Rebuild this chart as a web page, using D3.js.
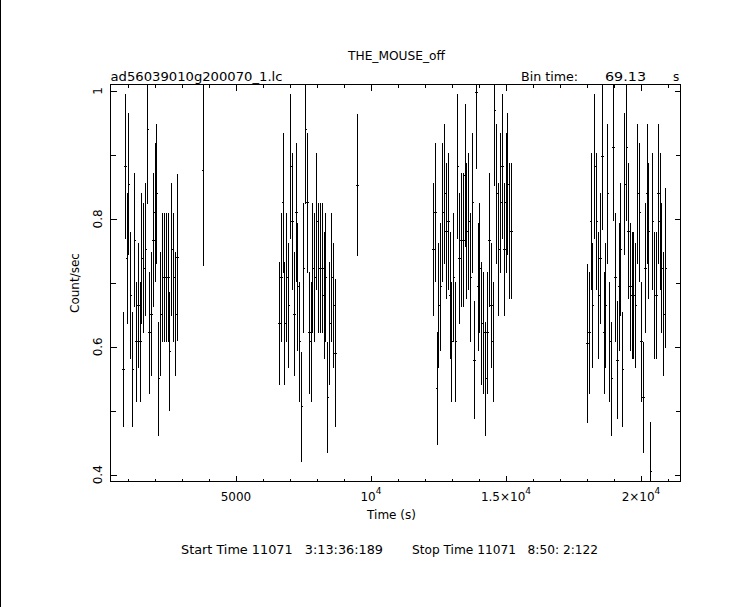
<!DOCTYPE html>
<html><head><meta charset="utf-8">
<script src="https://cdn.jsdelivr.net/npm/d3@7/dist/d3.min.js"></script>
<style>
html,body{margin:0;padding:0;background:#fff;}
svg text{font-family:"DejaVu Sans","Liberation Sans",sans-serif;font-size:12px;fill:#000;}
</style></head><body>
<svg id="c" width="743" height="607"></svg>
<script>
// ---------- data ----------
const title = "THE_MOUSE_off";
const fileName = "ad56039010g200070_1.lc";
const binLabel = "Bin time:";
const binTime = 69.13;
const binValueLabel = "69.13";
const binUnit = "s";
const xTitle = "Time (s)";
const yTitle = "Count/sec";
const startLabel = "Start Time 11071   3:13:36:189";
const stopLabel = "Stop Time 11071   8:50: 2:122";

const xMajorTicks = [5000, 10000, 15000, 20000];
const xTickBase = ["5000", "10", "1.5\u00d710", "2\u00d710"];
const xTickExp = ["", "4", "4", "4"];
const xMinorTicks = [1000, 2000, 3000, 4000, 6000, 7000, 8000, 9000, 11000, 12000, 13000, 14000, 16000, 17000, 18000, 19000, 21000];
const yMajorTicks = [0.4, 0.6, 0.8, 1.0];
const yTickLabels = ["0.4", "0.6", "0.8", "1"];
const yMinorTicks = [0.5, 0.7, 0.9];

// start time (s) of the first bin of each contiguous segment
const segStart = [826, 3778, 6604, 9493, 12307, 18011];

const seg1Rate = [0.564,0.882,0.738,0.854,0.680,0.564,0.767,0.608,0.665,0.608,0.738,0.723,0.752,0.940,0.622,0.651,0.767,0.810,0.839,0.550,0.651,0.709,0.709,0.709,0.709,0.593,0.752,0.709,0.651,0.740];
const seg1Err  = [0.090,0.113,0.103,0.111,0.099,0.090,0.105,0.094,0.098,0.094,0.103,0.102,0.104,0.117,0.095,0.097,0.105,0.108,0.110,0.089,0.097,0.101,0.101,0.101,0.101,0.093,0.104,0.101,0.097,0.131];

const seg2Rate = [0.875];
const seg2Err  = [0.149];

const seg3Rate = [0.637,0.709,0.825,0.637,0.709,0.665,0.882,0.796,0.651,0.810,0.694,0.608,0.506,0.723,0.940,0.825,0.622,0.608,0.723,0.709,0.796,0.723,0.723,0.723,0.680,0.709,0.521,0.637,0.709,0.665,0.590];
const seg3Err  = [0.096,0.101,0.109,0.096,0.101,0.098,0.113,0.107,0.097,0.108,0.100,0.094,0.086,0.102,0.117,0.109,0.095,0.094,0.102,0.101,0.107,0.102,0.102,0.102,0.099,0.101,0.087,0.096,0.101,0.098,0.116];

const seg4Rate = [0.853];
const seg4Err  = [0.111];

const seg5Rate = [0.752,0.810,0.535,0.665,0.694,0.810,0.839,0.781,0.796,0.680,0.608,0.709,0.608,0.882,0.738,0.767,0.767,0.868,0.781,0.796,0.709,0.825,0.579,0.998,0.694,0.723,0.637,0.622,0.550,0.622,0.767,0.665,0.608,0.969,0.839,0.752,0.825,0.882,0.752,0.825,0.854,0.781,0.781];
const seg5Err  = [0.104,0.108,0.088,0.098,0.100,0.108,0.110,0.106,0.107,0.099,0.094,0.101,0.094,0.113,0.103,0.105,0.105,0.112,0.106,0.107,0.101,0.109,0.092,0.120,0.100,0.102,0.096,0.095,0.089,0.095,0.105,0.098,0.094,0.118,0.110,0.104,0.109,0.113,0.104,0.109,0.111,0.106,0.106];

const seg6Rate = [0.605,0.622,0.796,0.665,0.882,0.796,0.680,0.738,0.897,0.622,0.665,0.839,0.608,0.550,0.911,0.709,0.579,0.694,0.752,0.564,0.854,0.911,0.781,0.694,0.680,0.680,0.665,0.839,0.810,0.608,0.521,0.723,0.839,0.781,0.405,0.796,0.680,0.680,0.839,0.796,0.723,0.651,0.723];
const seg6Err  = [0.124,0.095,0.107,0.098,0.113,0.107,0.099,0.103,0.114,0.095,0.098,0.110,0.094,0.089,0.115,0.101,0.092,0.100,0.104,0.090,0.111,0.115,0.106,0.100,0.099,0.099,0.098,0.110,0.108,0.094,0.087,0.102,0.110,0.106,0.077,0.107,0.099,0.099,0.110,0.107,0.102,0.097,0.125];

const segRates = [seg1Rate, seg2Rate, seg3Rate, seg4Rate, seg5Rate, seg6Rate];
const segErrs  = [seg1Err, seg2Err, seg3Err, seg4Err, seg5Err, seg6Err];

// ---------- build points ----------
const points = [];
segRates.forEach((rates, s) => {
  rates.forEach((r, i) => {
    points.push({t: segStart[s] + i * binTime, r: r, e: segErrs[s][i]});
  });
});

// ---------- layout ----------
const L = 110.5, R = 680.5, T = 84.5, B = 481.5;
const x = d3.scaleLinear().domain([351.9, 21463]).range([L, R]);
const y = d3.scaleLinear().domain([0.3894, 1.0102]).range([B, T]);

const svg = d3.select("#c");

// left page border line
svg.append("line").attr("x1", 0.5).attr("x2", 0.5).attr("y1", 0).attr("y2", 607)
  .attr("stroke", "#000").attr("stroke-width", 1);

svg.append("defs").append("clipPath").attr("id", "clip")
  .append("rect").attr("x", L).attr("y", T).attr("width", R - L).attr("height", B - T);

// axes (ticks inward on all sides)
function axisGroup(axis, tx, ty) {
  const g = svg.append("g").attr("transform", `translate(${tx},${ty})`).call(axis);
  g.selectAll(".domain").remove();
  g.selectAll("text").remove();
  g.selectAll("line").attr("stroke", "#000").attr("shape-rendering", "crispEdges");
  return g;
}
axisGroup(d3.axisBottom(x).tickValues(xMajorTicks).tickSize(-6).tickFormat(""), 0, B);
axisGroup(d3.axisBottom(x).tickValues(xMinorTicks).tickSize(-3).tickFormat(""), 0, B);
axisGroup(d3.axisTop(x).tickValues(xMajorTicks).tickSize(-6).tickFormat(""), 0, T);
axisGroup(d3.axisTop(x).tickValues(xMinorTicks).tickSize(-3).tickFormat(""), 0, T);
axisGroup(d3.axisLeft(y).tickValues(yMajorTicks).tickSize(-6).tickFormat(""), L, 0);
axisGroup(d3.axisLeft(y).tickValues(yMinorTicks).tickSize(-5).tickFormat(""), L, 0);
axisGroup(d3.axisRight(y).tickValues(yMajorTicks).tickSize(-6).tickFormat(""), R, 0);
axisGroup(d3.axisRight(y).tickValues(yMinorTicks).tickSize(-5).tickFormat(""), R, 0);

// frame
svg.append("rect").attr("x", L).attr("y", T).attr("width", R - L).attr("height", B - T)
  .attr("fill", "none").attr("stroke", "#000").attr("shape-rendering", "crispEdges");

// error bars
const px = v => Math.round(v - 0.5) + 0.5;
const gData = svg.append("g").attr("clip-path", "url(#clip)")
  .attr("stroke", "#000").attr("stroke-width", 1).attr("shape-rendering", "crispEdges");
gData.selectAll("line.v").data(points).join("line").attr("class", "v")
  .attr("x1", d => px(x(d.t))).attr("x2", d => px(x(d.t)))
  .attr("y1", d => y(d.r + d.e)).attr("y2", d => y(d.r - d.e));
gData.selectAll("line.h").data(points).join("line").attr("class", "h")
  .attr("x1", d => x(d.t - binTime / 2)).attr("x2", d => x(d.t + binTime / 2) + 0.5)
  .attr("y1", d => px(y(d.r))).attr("y2", d => px(y(d.r)));

// ---------- texts ----------
function txt(s, xx, yy, opts = {}) {
  const t = svg.append("text").attr("x", xx).attr("y", yy).text(s);
  if (opts.anchor) t.attr("text-anchor", opts.anchor);
  if (opts.len) t.attr("textLength", opts.len).attr("lengthAdjust", "spacingAndGlyphs");
  return t;
}
txt(title, 348, 60, {len: 97});
txt(fileName, 110.5, 81, {len: 172});
txt(binLabel, 521, 81, {len: 57});
txt(binValueLabel, 605, 81, {len: 41});
txt(binUnit, 673, 81);

// x tick labels
xMajorTicks.forEach((v, i) => {
  const t = svg.append("text").attr("x", x(v)).attr("y", 501).attr("text-anchor", "middle");
  t.append("tspan").text(xTickBase[i]);
  if (xTickExp[i]) t.append("tspan").attr("dy", -7).attr("font-size", "9px").text(xTickExp[i]);
});
txt(xTitle, (L + R) / 2 - 4, 519, {anchor: "middle"});

// y tick labels (rotated)
yMajorTicks.forEach((v, i) => {
  svg.append("text").attr("transform", `translate(102,${y(v)}) rotate(-90)`)
    .attr("text-anchor", "middle").text(yTickLabels[i]);
});
svg.append("text").attr("transform", `translate(79,${(T + B) / 2}) rotate(-90)`)
  .attr("text-anchor", "middle").text(yTitle);

// start / stop
txt(startLabel, 181, 554, {len: 202}).attr("xml:space", "preserve").style("white-space", "pre");
txt(stopLabel, 412, 554, {len: 186}).attr("xml:space", "preserve").style("white-space", "pre");
</script>
</body></html>
